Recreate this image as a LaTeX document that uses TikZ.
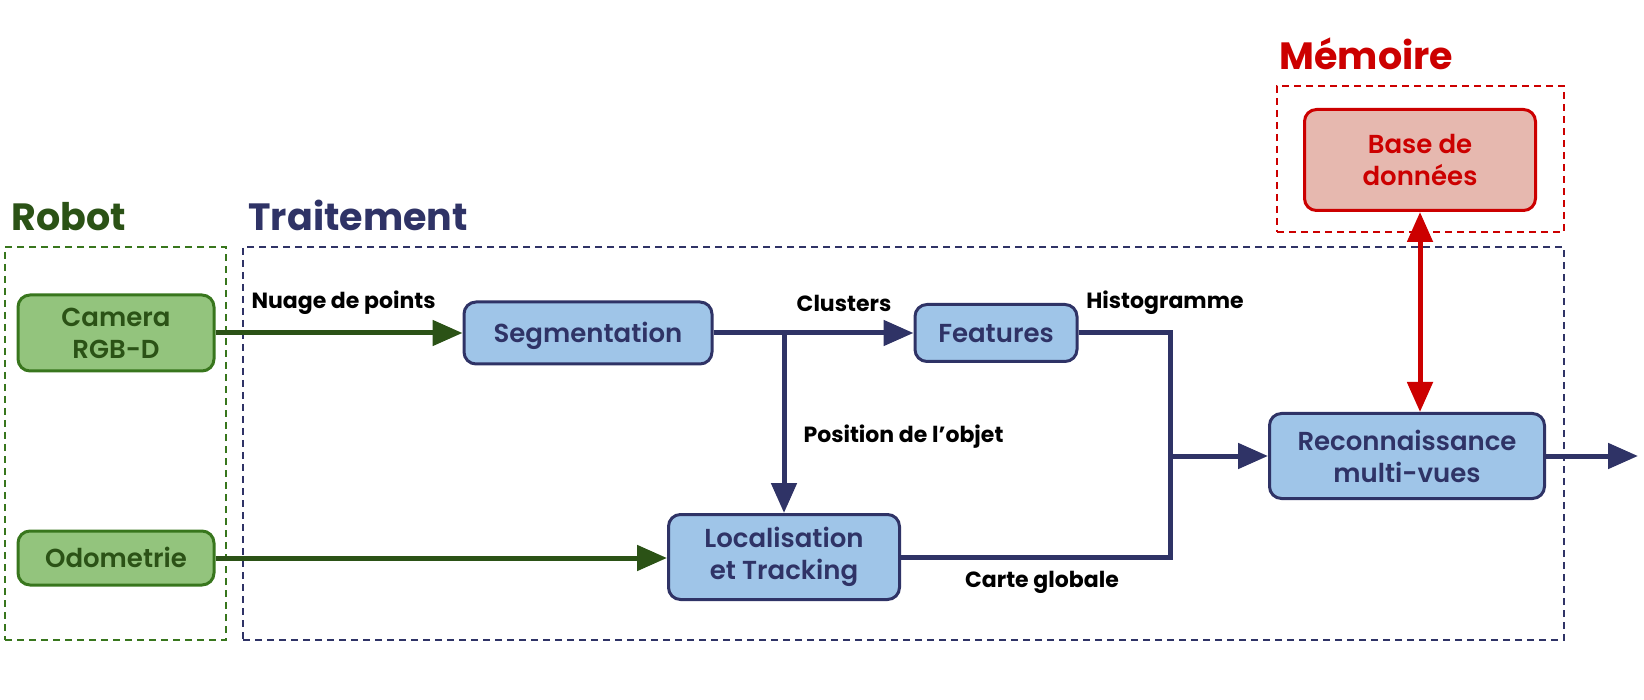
\documentclass[tikz,border=0pt]{standalone}
\usepackage{fontspec}
\setmainfont{Poppins}
\newfontfamily\semifont{Poppins SemiBold}
\usetikzlibrary{arrows.meta, positioning, calc}

\definecolor{robotgreen}{HTML}{2B5216}
\definecolor{camfill}{HTML}{93C47D}
\definecolor{camdraw}{HTML}{38761D}
\definecolor{navy}{HTML}{2F3366}
\definecolor{procfill}{HTML}{9FC5E8}
\definecolor{memred}{HTML}{CC0000}
\definecolor{memfill}{HTML}{E6B8AF}

\begin{document}
\begin{tikzpicture}[x=1pt, y=-1pt,
  src/.style={rectangle, rounded corners=12pt, draw=camdraw, fill=camfill,
              line width=3pt, text=robotgreen, align=center, inner sep=0pt,
              font=\fontsize{26}{32}\selectfont\semifont},
  proc/.style={src, draw=navy, fill=procfill, text=navy},
  db/.style={src, draw=memred, fill=memfill, text=memred},
  oneline/.style={text height=21pt, text depth=2pt},
  frame/.style={rectangle, draw, line width=1.5pt, dash pattern=on 7pt off 5pt},
  title/.style={anchor=base west, font=\fontsize{38}{42}\selectfont\bfseries},
  lbl/.style={font=\fontsize{22}{26}\selectfont\bfseries, text=black},
  arrow/.style={-{Triangle[length=30pt, width=25pt]}, line width=5pt, draw=navy},
  garrow/.style={arrow, draw=robotgreen}
]
  \useasboundingbox (0,0) rectangle (1644,700);

  % zones
  \node[frame, draw=camdraw, minimum width=221pt, minimum height=393pt] (robotzone) at (115.5,443.5) {};
  \node[frame, draw=navy, minimum width=1321pt, minimum height=393pt] (traitzone) at (903.5,443.5) {};
  \node[frame, draw=memred, minimum width=287pt, minimum height=146pt] (memzone) at (1420.5,159) {};
  \node[title, text=robotgreen] (trobot) at (8,231) {Robot};
  \node[title, text=navy] (ttrait) at (245,231) {Traitement};
  \node[title, text=memred] (tmem) at (1276,70) {Mémoire};

  % blocs
  \node[src, minimum width=196pt, minimum height=76pt] (camera) at (116,333) {Camera\\RGB-D};
  \node[src, oneline, minimum width=196pt, minimum height=54pt] (odo) at (116,558) {Odometrie};
  \node[proc, oneline, minimum width=248pt, minimum height=62pt] (seg) at (588,333) {Segmentation};
  \node[proc, oneline, minimum width=162pt, minimum height=57pt] (feat) at (996,333) {Features};
  \node[proc, minimum width=231pt, minimum height=85pt] (loc) at (784,557) {Localisation\\et Tracking};
  \node[proc, minimum width=275pt, minimum height=85pt] (reco) at (1407,456) {Reconnaissance\\multi-vues};
  \node[db, minimum width=231pt, minimum height=101pt] (bdd) at (1420,160) {Base de\\données};

  \coordinate (branch) at (loc.north |- seg.east);
  \coordinate (join) at (1170,456);
  \coordinate (exit) at (1638,456);

  % liens
  \draw[garrow] (camera.east) -- (seg.west);
  \draw[garrow] (odo.east) -- (odo.east -| loc.west);
  \draw[arrow] (seg.east) -- (feat.west);
  \draw[arrow] (branch) -- (loc.north);
  \draw[line width=5pt, draw=navy] (feat.east) -| (join |- loc.east) -- (loc.east);
  \draw[arrow] (join) -- (reco.west);
  \draw[arrow] (reco.east) -- (exit);
  \draw[arrow, draw=memred, {Triangle[length=30pt, width=25pt]}-{Triangle[length=30pt, width=25pt]}]
    (bdd.south) -- (bdd.south |- reco.north);

  % etiquettes
  \node[lbl, anchor=west] (lnuage) at (248,303) {Nuage de points};
  \node[lbl] (lclust) at (844,303) {Clusters};
  \node[lbl] (lhisto) at (1165,303) {Histogramme};
  \node[lbl, anchor=west] (lpos) at (800,437) {Position de l’objet};
  \node[lbl] (lcarte) at (1042,582) {Carte globale};
\end{tikzpicture}
\end{document}
